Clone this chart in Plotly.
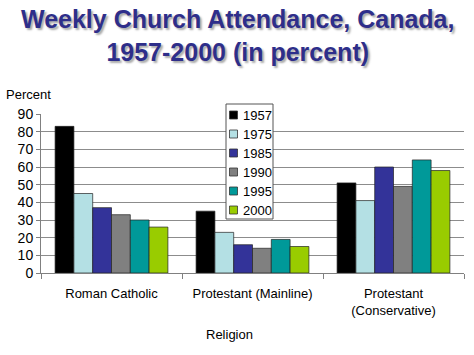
import plotly.graph_objects as go

categories = ["Roman Catholic", "Protestant (Mainline)", "Protestant<br>(Conservative)"]
years = ["1957", "1975", "1985", "1990", "1995", "2000"]
v1957 = [83, 35, 51]
v1975 = [45, 23, 41]
v1985 = [37, 16, 60]
v1990 = [33, 14, 49]
v1995 = [30, 19, 64]
v2000 = [26, 15, 58]
series = [v1957, v1975, v1985, v1990, v1995, v2000]
colors = ["#000000", "#B4E0E4", "#333399", "#808080", "#009999", "#99CC00"]
y_ticks = [0, 10, 20, 30, 40, 50, 60, 70, 80, 90]

W, H = 474, 355
ML, MR, MT, MB = 41, 10, 114, 82
PW, PH = W - ML - MR, H - MT - MB


def px_x(p):
    # window pixel -> paper fraction
    return (p - ML) / PW


def px_y(p):
    return (H - MB - p) / PH


fig = go.Figure()
for yr, vals, c in zip(years, series, colors):
    fig.add_trace(go.Bar(x=categories, y=vals, name=yr, showlegend=False,
                         marker=dict(color=c, line=dict(color="#222222", width=0.7))))

fig.update_layout(
    width=W, height=H,
    margin=dict(l=ML, r=MR, t=MT, b=MB, autoexpand=False),
    paper_bgcolor="white", plot_bgcolor="white",
    barmode="group", bargap=0.2, bargroupgap=0,
    font=dict(family="Liberation Sans, Arial", size=13, color="black"),
    showlegend=False,
    hovermode=False,
    xaxis=dict(
        automargin=False,
        showline=True, linecolor="#808080", linewidth=1,
        ticks="outside", tickson="boundaries", ticklen=5, tickcolor="#808080",
        tickfont=dict(size=13), ticklabelstandoff=8,
    ),
    yaxis=dict(
        automargin=False,
        range=[0, 90], tickvals=y_ticks, showgrid=True, gridcolor="#8c8c8c", gridwidth=1,
        showline=True, linecolor="#808080", linewidth=1,
        ticks="outside", ticklen=4, tickcolor="#808080",
        tickfont=dict(size=14), zeroline=False,
    ),
)

# Title
fig.add_annotation(
    text="Weekly Church Attendance, Canada,<br>1957-2000 (in percent)",
    xref="paper", yref="paper", x=px_x(237), y=px_y(3), xanchor="center", yanchor="top",
    showarrow=False,
    font=dict(family="Liberation Sans, Arial", size=25, color="#2E2E8A", weight="bold",
              shadow="2px 2px 2px #aaaaaa"),
)
# Axis labels
fig.add_annotation(text="Percent", xref="paper", yref="paper", x=px_x(4), y=px_y(94),
                   xanchor="left", yanchor="middle", showarrow=False, font=dict(size=13))
fig.add_annotation(text="Religion", xref="paper", yref="paper", x=px_x(229), y=px_y(334),
                   xanchor="center", yanchor="middle", showarrow=False, font=dict(size=13))

# Manual legend
lx0, lx1, ly0, ly1 = 226, 273, 104, 219
fig.add_shape(type="rect", xref="paper", yref="paper", x0=px_x(lx0), x1=px_x(lx1),
              y0=px_y(ly1), y1=px_y(ly0), fillcolor="white", line=dict(color="#555555", width=1),
              layer="above")
for i, (yr, c) in enumerate(zip(years, colors)):
    cy = 115 + 19 * i
    fig.add_shape(type="rect", xref="paper", yref="paper", x0=px_x(229.5), x1=px_x(237.5),
                  y0=px_y(cy + 4), y1=px_y(cy - 4), fillcolor=c,
                  line=dict(color="#333333", width=0.8), layer="above")
    fig.add_annotation(text=yr, xref="paper", yref="paper", x=px_x(241), y=px_y(cy),
                       xanchor="left", yanchor="middle", showarrow=False, font=dict(size=13))

fig.write_html("out.html", config={"displayModeBar": False},
               post_script="document.body.style.margin='0';document.body.style.overflow='hidden';")
